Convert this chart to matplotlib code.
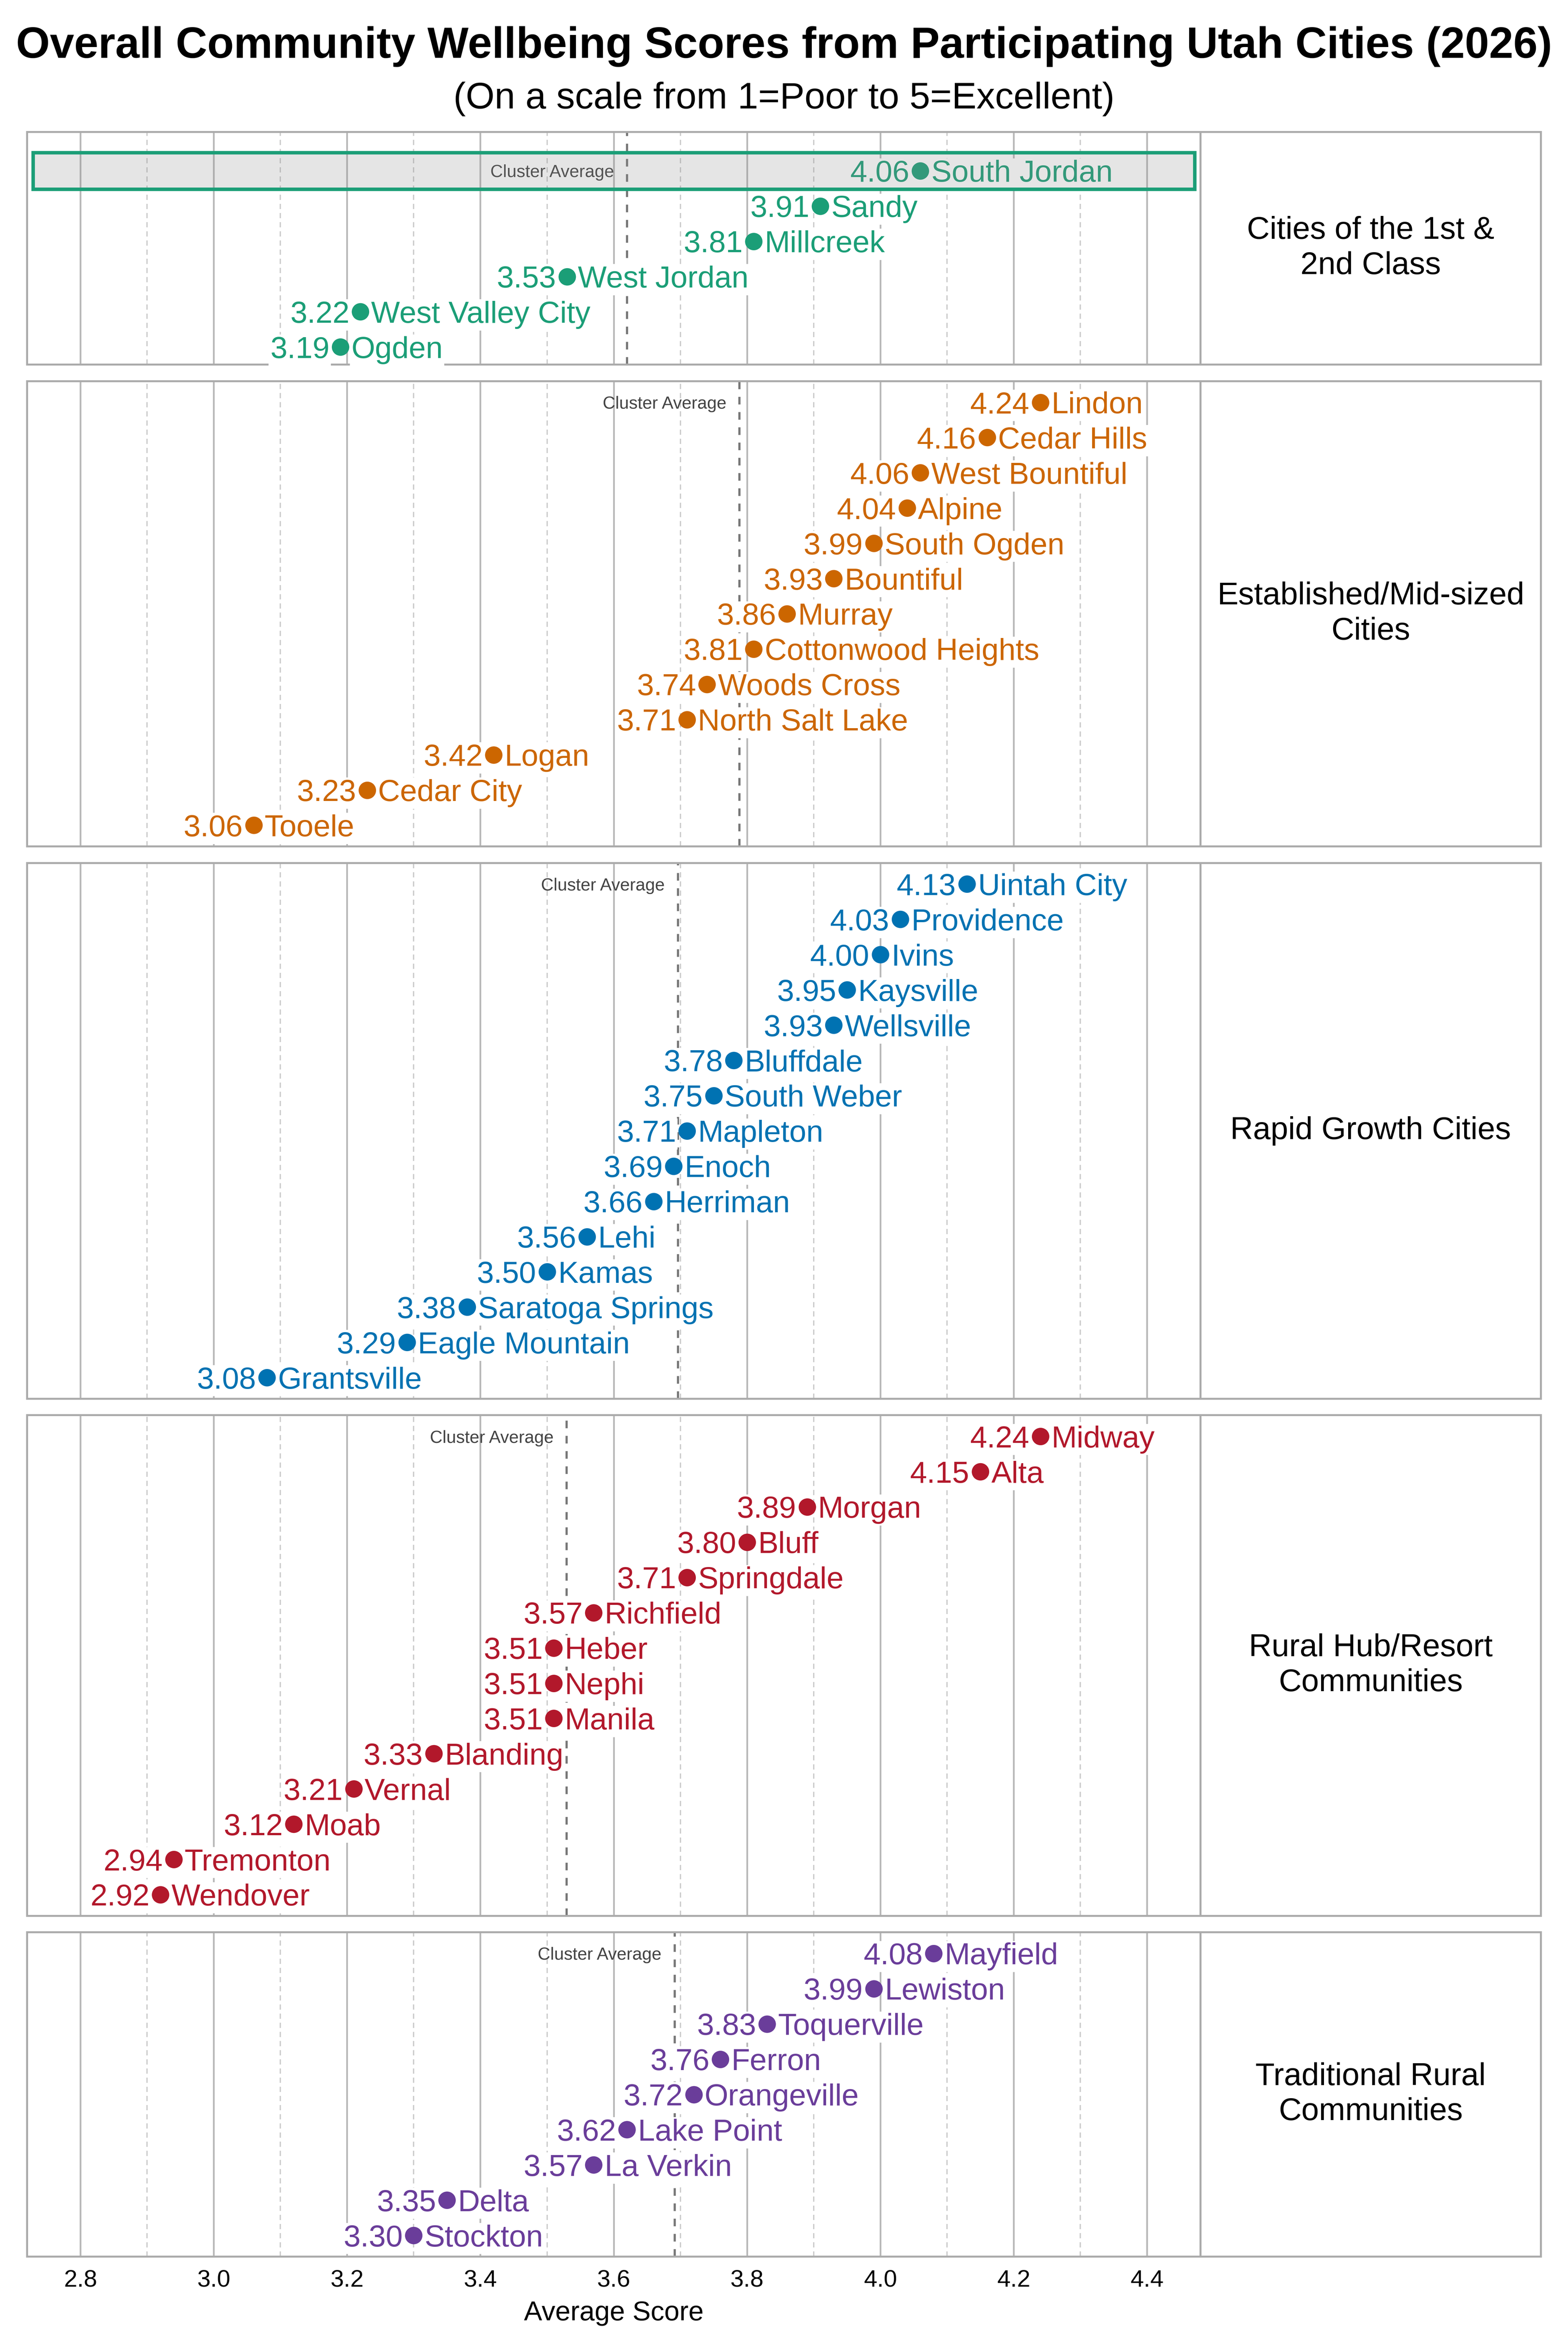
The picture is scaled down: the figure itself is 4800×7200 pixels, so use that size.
import matplotlib.pyplot as plt
import matplotlib.transforms as mtransforms
from matplotlib.patches import Rectangle
from matplotlib.ticker import MultipleLocator
import numpy as np

plt.rcParams['font.family'] = ['Liberation Sans', 'DejaVu Sans']

# data, one list per cluster (sorted high to low)
clusters = [
    'Cities of the 1st &\n2nd Class',
    'Established/Mid-sized\nCities',
    'Rapid Growth Cities',
    'Rural Hub/Resort\nCommunities',
    'Traditional Rural\nCommunities',
]

first_class_cities = ['South Jordan', 'Sandy', 'Millcreek', 'West Jordan', 'West Valley City', 'Ogden']
first_class_scores = [4.06, 3.91, 3.81, 3.53, 3.22, 3.19]

established_cities = ['Lindon', 'Cedar Hills', 'West Bountiful', 'Alpine', 'South Ogden', 'Bountiful',
                      'Murray', 'Cottonwood Heights', 'Woods Cross', 'North Salt Lake', 'Logan',
                      'Cedar City', 'Tooele']
established_scores = [4.24, 4.16, 4.06, 4.04, 3.99, 3.93, 3.86, 3.81, 3.74, 3.71, 3.42, 3.23, 3.06]

rapid_cities = ['Uintah City', 'Providence', 'Ivins', 'Kaysville', 'Wellsville', 'Bluffdale',
                'South Weber', 'Mapleton', 'Enoch', 'Herriman', 'Lehi', 'Kamas',
                'Saratoga Springs', 'Eagle Mountain', 'Grantsville']
rapid_scores = [4.13, 4.03, 4.00, 3.95, 3.93, 3.78, 3.75, 3.71, 3.69, 3.66, 3.56, 3.50, 3.38, 3.29, 3.08]

rural_hub_cities = ['Midway', 'Alta', 'Morgan', 'Bluff', 'Springdale', 'Richfield', 'Heber',
                    'Nephi', 'Manila', 'Blanding', 'Vernal', 'Moab', 'Tremonton', 'Wendover']
rural_hub_scores = [4.24, 4.15, 3.89, 3.80, 3.71, 3.57, 3.51, 3.51, 3.51, 3.33, 3.21, 3.12, 2.94, 2.92]

trad_rural_cities = ['Mayfield', 'Lewiston', 'Toquerville', 'Ferron', 'Orangeville', 'Lake Point',
                     'La Verkin', 'Delta', 'Stockton']
trad_rural_scores = [4.08, 3.99, 3.83, 3.76, 3.72, 3.62, 3.57, 3.35, 3.30]

highlight_city = 'South Jordan'

cluster_cities = [first_class_cities, established_cities, rapid_cities, rural_hub_cities, trad_rural_cities]
cluster_scores = [first_class_scores, established_scores, rapid_scores, rural_hub_scores, trad_rural_scores]
cluster_colors = ['#1b9e77', '#cc6600', '#0072b2', '#b2182b', '#6a3d9a']

title = 'Overall Community Wellbeing Scores from Participating Utah Cities (2026)'
subtitle = '(On a scale from 1=Poor to 5=Excellent)'

# layout (in pixels of a 1045 x 1568 reference frame)
W, H = 1045.0, 1568.0
ROW = 23.5
GAP = 11.0
AX_LEFT, AX_RIGHT, STRIP_RIGHT = 18.0, 800.0, 1027.0
pads = [(1.1, 0.5), (0.6, 0.6), (0.6, 0.6), (0.6, 0.6), (0.6, 0.6)]
XLIM = (2.72, 4.48)
GRID = '#b8b8b8'
SPINE = '#ababab'

fig = plt.figure(figsize=(10, 15), dpi=480)
fig.text(0.5, 1 - 31 / H, title, ha='center', va='center', fontsize=20, fontweight='bold')
fig.text(0.5, 1 - 66 / H, subtitle, ha='center', va='center', fontsize=17)

top = 88.0
axes = []
for i, (label, cities, scores, color) in enumerate(zip(clusters, cluster_cities, cluster_scores, cluster_colors)):
    n = len(cities)
    pt, pb = pads[i]
    h = (n - 1 + pt + pb) * ROW
    rect = [AX_LEFT / W, 1 - (top + h) / H, (AX_RIGHT - AX_LEFT) / W, h / H]
    ax = fig.add_axes(rect)
    sax = fig.add_axes([AX_RIGHT / W, rect[1], (STRIP_RIGHT - AX_RIGHT) / W, h / H])
    top += h + GAP
    axes.append(ax)

    ys = np.arange(n)[::-1]
    ax.set_xlim(*XLIM)
    ax.set_ylim(-pb, n - 1 + pt)
    ax.xaxis.set_major_locator(MultipleLocator(0.2))
    ax.xaxis.set_minor_locator(MultipleLocator(0.1))
    ax.grid(which='major', axis='x', color=GRID, lw=0.8, zorder=0)
    ax.grid(which='minor', axis='x', color='#cccccc', lw=0.6, ls=(0, (4, 3)), zorder=0)
    ax.set_axisbelow(True)
    ax.set_yticks([])
    ax.tick_params(axis='x', which='both', length=0, labelsize=11, pad=6)
    if i < len(clusters) - 1:
        ax.tick_params(axis='x', labelbottom=False)
    for sp in ax.spines.values():
        sp.set_color(SPINE)
        sp.set_linewidth(0.9)

    ax.plot(scores, ys, 'o', color=color, markersize=7, zorder=4, linestyle='none')
    for city, s, y in zip(cities, scores, ys):
        box = dict(boxstyle='square,pad=0.05', fc='white', ec='none')
        ax.annotate(f'{s:.2f}', (s, y), xytext=(-5, 0), textcoords='offset points',
                    ha='right', va='center_baseline', fontsize=14, color=color, bbox=box, zorder=3)
        ax.annotate(city, (s, y), xytext=(5, 0), textcoords='offset points',
                    ha='left', va='center_baseline', fontsize=14, color=color, bbox=box, zorder=3)
        if city == highlight_city:
            trans = mtransforms.blended_transform_factory(ax.transAxes, ax.transData)
            ax.add_patch(Rectangle((0.005, y - 0.52), 0.99, 1.04, transform=trans,
                                   facecolor=(0.537, 0.537, 0.537, 0.22), edgecolor=color,
                                   linewidth=1.6, zorder=5))

    avg = np.mean(scores)
    ax.axvline(avg, color='#777777', lw=1.0, ls=(0, (3.5, 3.5)), zorder=2)
    ax.annotate('Cluster Average', (avg, ys[0]), xytext=(-6, 0), textcoords='offset points',
                ha='right', va='center_baseline', fontsize=8, color='#444444', zorder=3)

    sax.set_xticks([])
    sax.set_yticks([])
    for sp in sax.spines.values():
        sp.set_color(SPINE)
        sp.set_linewidth(0.9)
    sax.text(0.5, 0.5, label, ha='center', va='center', fontsize=14.5,
             linespacing=1.25, transform=sax.transAxes)

axes[-1].set_xlabel('Average Score', fontsize=12.5, labelpad=4)

fig.savefig('out.png', dpi=480)
